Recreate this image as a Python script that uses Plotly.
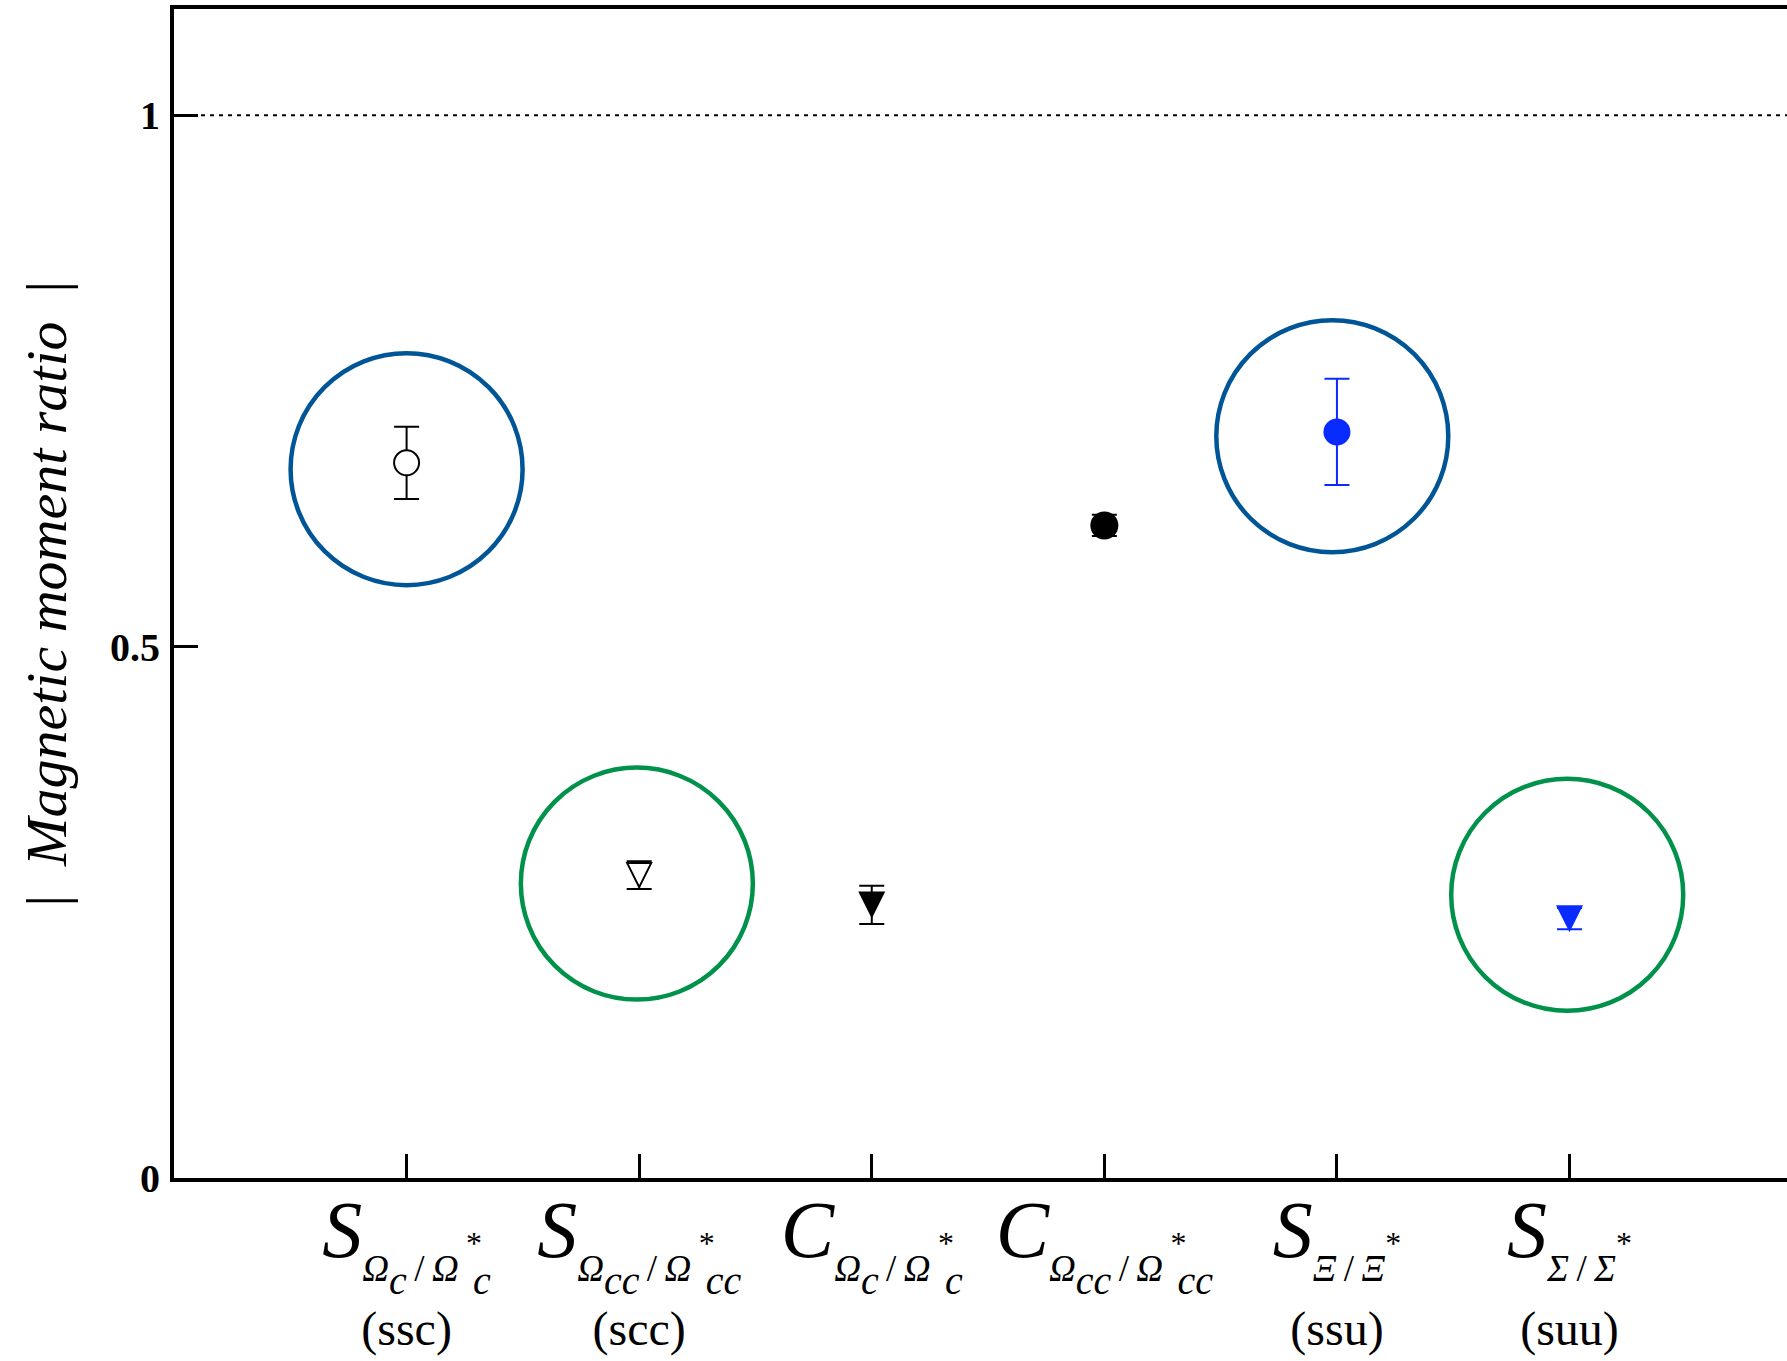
import plotly.graph_objects as go

# ---- data -----------------------------------------------------------------
categories = [1, 2, 3, 4, 5, 6]
ratio = [0.673, 0.285, 0.257, 0.614, 0.702, 0.244]
ratio_err = [0.034, 0.013, 0.018, 0.010, 0.050, 0.010]

main_letter = ["S", "S", "C", "C", "S", "S"]
hadron = ["Ω", "Ω", "Ω", "Ω", "Ξ", "Σ"]
hadron_sub = ["c", "cc", "c", "cc", "", ""]
quarks = ["ssc", "scc", "", "", "ssu", "suu"]

# highlighted points (ring centres)
ring_x = [1.0, 1.99, 4.98, 5.99]
ring_y = [0.667, 0.277, 0.698, 0.2665]

y_ticks = [0, 0.5, 1]
y_tick_text = ["0", "0.5", "1"]

# ---- styling --------------------------------------------------------------
W, H = 1787, 1361
M_L, M_R, M_T, M_B = 174, 0, 9, 183
Y_RANGE = [0, 1.1]
X_RANGE = [0, 6.935]
SERIF = "Liberation Serif, Tinos, 'Times New Roman', 'DejaVu Serif', serif"
BLUE = "#0A2BFF"
RING_BLUE = "#005596"
RING_GREEN = "#00924A"

symbols = ["circle", "arrow-down", "arrow-down", "circle", "circle", "arrow-down"]
fills = ["white", "white", "black", "black", BLUE, BLUE]
edges = ["black", "black", "black", "black", BLUE, BLUE]
edge_w = [2, 2, 0, 0, 0, 0]
sizes = [25, 24, 27, 28, 27, 27]
ring_colors = [RING_BLUE, RING_GREEN, RING_BLUE, RING_GREEN]
RING_R = 116  # px

px_per_unit = (H - M_T - M_B) / (Y_RANGE[1] - Y_RANGE[0])
THIN = "\u2009"


def span(text, size, extra=""):
    return (f"<span style=\"font-family:{SERIF};font-size:{size}px{extra}\">"
            f"{text}</span>")


def nest(text, tag, n, size, extra=""):
    return f"<{tag}>" * n + span(text, size, extra) + f"</{tag}>" * n


def tick_label(letter, name, sub, q):
    lower = nest(f"<i>{sub}</i>", "sub", 2, 40) if sub else ""
    if sub:
        star = nest("*", "sup", 2, 32, ";letter-spacing:-9px")
    else:
        star = nest("*", "sup", 2, 32)
    body = (f"<i>{name}</i>{lower}{THIN}/{THIN}<i>{name}</i>"
            + (THIN if sub else "") + star + lower)
    first = span(f"<i>{letter}</i>", 80) + nest(body, "sub", 2, 37)
    if q:
        return first + "<br>" + span(f"({q})", 48)
    return first


tick_text = [tick_label(*a) for a in zip(main_letter, hadron, hadron_sub, quarks)]

fig = go.Figure()

for i, cat in enumerate(categories):
    # error bar at the measured value
    fig.add_trace(go.Scatter(
        x=[cat], y=[ratio[i]], mode="markers",
        marker=dict(size=1, opacity=0),
        error_y=dict(type="data", array=[ratio_err[i]], color=edges[i],
                     thickness=2, width=12.5),
        showlegend=False, hoverinfo="skip",
    ))
    # arrow symbols have their tip at the anchor; centre the glyph on the value
    shift = sizes[i] / 2 / px_per_unit if symbols[i].startswith("arrow") else 0
    fig.add_trace(go.Scatter(
        x=[cat], y=[ratio[i] - shift], mode="markers",
        marker=dict(symbol=symbols[i], size=sizes[i], color=fills[i],
                    line=dict(color=edges[i], width=edge_w[i])),
        showlegend=False,
    ))

# rings around selected points
for cx, cy, col in zip(ring_x, ring_y, ring_colors):
    fig.add_shape(type="circle", xref="x", yref="y",
                  xsizemode="pixel", ysizemode="pixel",
                  xanchor=cx, yanchor=cy,
                  x0=-RING_R, x1=RING_R, y0=-RING_R, y1=RING_R,
                  line=dict(color=col, width=4.5))

# reference line at ratio 1
fig.add_shape(type="line", xref="paper", yref="y", x0=0, x1=1, y0=1, y1=1,
              line=dict(color="black", width=1.8, dash="4px,5px"))

fig.add_annotation(
    text="|\u2002<i>Magnetic moment ratio</i>\u2002|",
    xref="paper", yref="paper", x=0, y=0.5, xshift=-128,
    xanchor="center", yanchor="middle", textangle=-90, showarrow=False,
    font=dict(family=SERIF, size=58, color="black"),
)

fig.update_xaxes(
    range=X_RANGE, tickvals=categories, ticktext=tick_text, tickangle=0,
    ticks="inside", ticklen=24, tickwidth=3, tickcolor="black",
    showline=True, linecolor="black", linewidth=4, mirror=True,
    showgrid=False, zeroline=False, automargin=False,
    tickfont=dict(family=SERIF, size=68, color="black"),
    ticklabelstandoff=-7,
)
fig.update_yaxes(
    range=Y_RANGE, tickvals=y_ticks, ticktext=y_tick_text,
    ticks="inside", ticklen=24, tickwidth=3, tickcolor="black",
    showline=True, linecolor="black", linewidth=4,
    showgrid=False, zeroline=False, automargin=False,
    tickfont=dict(family=SERIF, size=40, color="black", weight="bold"),
    ticklabelstandoff=2,
)

fig.update_layout(
    width=W, height=H,
    margin=dict(l=M_L, r=M_R, t=M_T, b=M_B, pad=0),
    plot_bgcolor="white", paper_bgcolor="white",
    font=dict(family=SERIF),
    showlegend=False,
)

fig.write_html("out.html")
